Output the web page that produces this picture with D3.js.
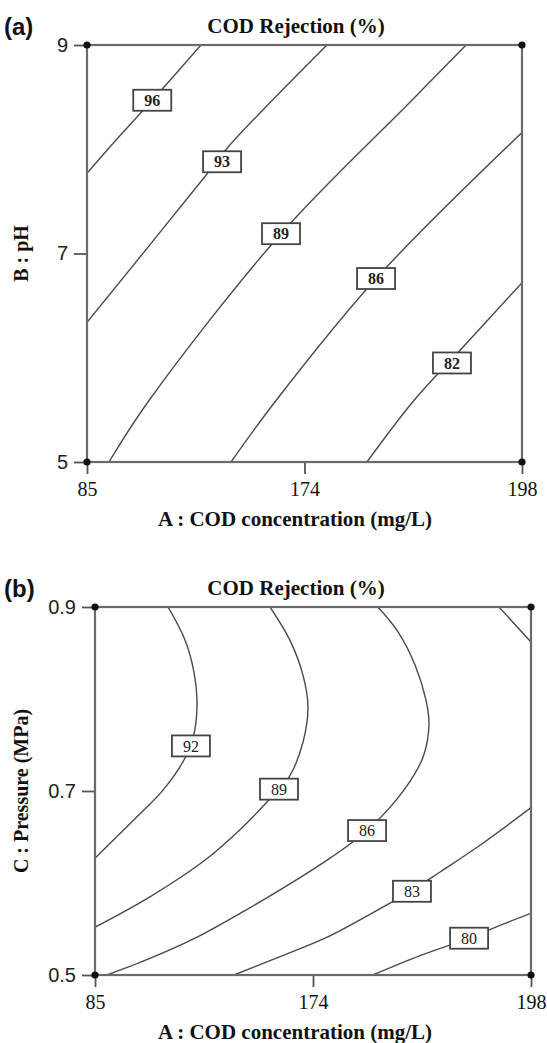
<!DOCTYPE html>
<html>
<head>
<meta charset="utf-8">
<script src="https://cdn.jsdelivr.net/npm/d3@7"></script>
<style>
  html, body { margin: 0; padding: 0; background: #fff; }
  svg { display: block; }
</style>
</head>
<body>
<svg id="chart" width="547" height="1043"></svg>
<script>
// ---------------- DATA ----------------
// Shared x axis: coded levels -1, 0, +1 of factor A
const xCoded = [-1, 0, 1];
const xTickLabels = ["85", "174", "198"];

// Panel (a): pH axis
const aYTicks = [5, 7, 9];
const aYTickLabels = ["5", "7", "9"];
// contour lines of COD rejection (%) : [coded A, pH]
const aLine96 = [[-1, 7.77], [-0.853, 8.12], [-0.70, 8.47], [-0.476, 9.0]];
const aLine93 = [[-1, 6.34], [-0.453, 7.75], [-0.356, 8.01], [0.103, 9.0]];
const aLine89 = [[-0.899, 5.0], [-0.715, 5.59], [-0.108, 7.19], [0.494, 8.47], [0.743, 9.0]];
const aLine86 = [[-0.338, 5.0], [-0.131, 5.59], [0.329, 6.76], [1.0, 8.16]];
const aLine82 = [[0.287, 5.0], [0.503, 5.59], [0.710, 6.06], [1.0, 6.72]];
const aLabelValues = [96, 93, 89, 86, 82];
const aLabelX = [-0.70, -0.379, -0.108, 0.329, 0.678];
const aLabelY = [8.47, 7.88, 7.19, 6.76, 5.95];

// Panel (b): pressure axis
const bYTicks = [0.5, 0.7, 0.9];
const bYTickLabels = ["0.5", "0.7", "0.9"];
// contour lines of COD rejection (%) : [coded A, pressure MPa]
const bLine92 = [[-0.665, 0.9], [-0.587, 0.864], [-0.546, 0.829], [-0.532, 0.793], [-0.550, 0.758],
                 [-0.596, 0.732], [-0.688, 0.701], [-0.803, 0.673], [-1, 0.627]];
const bLine89 = [[-0.197, 0.9], [-0.106, 0.864], [-0.046, 0.826], [-0.023, 0.791], [-0.046, 0.753],
                 [-0.110, 0.715], [-0.211, 0.688], [-0.335, 0.658], [-0.495, 0.625], [-0.748, 0.585], [-1, 0.552]];
const bLine86 = [[0.298, 0.9], [0.390, 0.873], [0.468, 0.837], [0.518, 0.799], [0.532, 0.772], [0.505, 0.737],
                 [0.417, 0.701], [0.248, 0.657], [0.078, 0.627], [-0.106, 0.599], [-0.312, 0.570],
                 [-0.541, 0.540], [-0.748, 0.518], [-0.945, 0.5]];
const bLine83 = [[1.0, 0.682], [0.766, 0.641], [0.583, 0.612], [0.454, 0.592], [0.261, 0.566],
                 [0.055, 0.540], [-0.151, 0.520], [-0.362, 0.5]];
const bLine83Corner = [[0.853, 0.9], [1.0, 0.862]];
const bLine80 = [[1.0, 0.567], [0.858, 0.554], [0.716, 0.540], [0.491, 0.521], [0.275, 0.5]];
const bLabelValues = [92, 89, 86, 83, 80];
const bLabelX = [-0.560, -0.156, 0.248, 0.454, 0.716];
const bLabelY = [0.749, 0.702, 0.657, 0.591, 0.540];

const titleText = "COD Rejection (%)";
const xTitleText = "A : COD concentration (mg/L)";

// ---------------- DRAW ----------------
const svg = d3.select("#chart");
const serif = "'Liberation Serif', 'Times New Roman', serif";
const sans = "'Liberation Sans Narrow', 'Liberation Sans', Arial, sans-serif";

function panel(cfg) {
  const x = d3.scaleLinear().domain([-1, 1]).range([cfg.left, cfg.right]);
  const y = d3.scaleLinear().domain(cfg.yDomain).range([cfg.bottom, cfg.top]);
  const g = svg.append("g");
  const clipId = "clip" + cfg.id;
  svg.append("clipPath").attr("id", clipId)
    .append("rect").attr("x", cfg.left).attr("y", cfg.top)
    .attr("width", cfg.right - cfg.left).attr("height", cfg.bottom - cfg.top);

  // panel letter
  g.append("text").attr("x", 4).attr("y", cfg.top - 10)
    .attr("font-family", "'Liberation Sans', Arial, sans-serif").attr("font-weight", "bold")
    .attr("font-size", 24).attr("fill", "#111").text(cfg.letter);
  // title
  g.append("text").attr("x", 296).attr("y", cfg.top - 12).attr("text-anchor", "middle")
    .attr("font-family", serif).attr("font-weight", "bold").attr("font-size", 21)
    .attr("fill", "#111").text(titleText);

  // contour lines
  const line = d3.line().x(d => x(d[0])).y(d => y(d[1])).curve(d3.curveCatmullRom.alpha(0.5));
  g.append("g").attr("clip-path", `url(#${clipId})`)
    .selectAll("path").data(cfg.lines).join("path")
    .attr("d", line).attr("fill", "none").attr("stroke", "#4a4a4a").attr("stroke-width", 1.4);

  // axes
  const xAxis = d3.axisBottom(x).tickValues(xCoded).tickSize(12).tickSizeOuter(0)
    .tickFormat((d, i) => xTickLabels[i]);
  const gx = g.append("g").attr("transform", `translate(0,${cfg.bottom})`).call(xAxis);
  gx.select(".domain").remove();
  gx.selectAll(".tick line").attr("stroke", "#555").attr("stroke-width", 1.8);
  gx.selectAll(".tick text").attr("font-family", serif).attr("font-size", 20)
    .attr("fill", "#111").attr("dy", "0.95em").attr("y", 15);

  const yAxis = d3.axisLeft(y).tickValues(cfg.yTicks).tickSize(13).tickSizeOuter(0)
    .tickFormat((d, i) => cfg.yTickLabels[i]);
  const gy = g.append("g").attr("transform", `translate(${cfg.left},0)`).call(yAxis);
  gy.select(".domain").remove();
  gy.selectAll(".tick line").attr("stroke", "#555").attr("stroke-width", 1.8);
  gy.selectAll(".tick text").attr("font-family", sans).attr("font-size", 20)
    .attr("fill", "#222").attr("x", -19);

  // border
  g.append("rect").attr("x", cfg.left).attr("y", cfg.top)
    .attr("width", cfg.right - cfg.left).attr("height", cfg.bottom - cfg.top)
    .attr("fill", "none").attr("stroke", "#6a6a6a").attr("stroke-width", 2.2);

  // corner dots
  const corners = [[-1, cfg.yDomain[0]], [-1, cfg.yDomain[1]], [1, cfg.yDomain[0]], [1, cfg.yDomain[1]]];
  g.selectAll("circle.corner").data(corners).join("circle").attr("class", "corner")
    .attr("cx", d => x(d[0])).attr("cy", d => y(d[1])).attr("r", 3.6).attr("fill", "#111");

  // contour labels
  const lab = g.selectAll("g.lab").data(cfg.labelValues).join("g").attr("class", "lab")
    .attr("transform", (d, i) => `translate(${x(cfg.labelX[i])},${y(cfg.labelY[i])})`);
  lab.append("rect").attr("x", -19).attr("y", -10.5).attr("width", 38).attr("height", 21)
    .attr("fill", "#fff").attr("stroke", "#444").attr("stroke-width", 1.8);
  lab.append("text").attr("text-anchor", "middle").attr("dy", "0.35em")
    .attr("font-family", serif).attr("font-size", cfg.labelSize)
    .attr("font-weight", cfg.labelWeight).attr("fill", "#222").text(d => d);

  // axis titles
  g.append("text").attr("x", 295).attr("y", cfg.bottom + 64).attr("text-anchor", "middle")
    .attr("font-family", serif).attr("font-weight", "bold").attr("font-size", 21)
    .attr("fill", "#111").text(xTitleText);
  g.append("text")
    .attr("transform", `translate(28,${(cfg.top + cfg.bottom) / 2}) rotate(-90)`)
    .attr("text-anchor", "middle")
    .attr("font-family", serif).attr("font-weight", "bold").attr("font-size", 20)
    .attr("fill", "#111").text(cfg.yTitle);
}

panel({
  id: "a", letter: "(a)", left: 87, right: 522, top: 45, bottom: 462,
  yDomain: [5, 9], yTicks: aYTicks, yTickLabels: aYTickLabels, yTitle: "B : pH",
  lines: [aLine96, aLine93, aLine89, aLine86, aLine82],
  labelValues: aLabelValues, labelX: aLabelX, labelY: aLabelY,
  labelSize: 16, labelWeight: "bold"
});

panel({
  id: "b", letter: "(b)", left: 95, right: 531, top: 607, bottom: 975,
  yDomain: [0.5, 0.9], yTicks: bYTicks, yTickLabels: bYTickLabels, yTitle: "C : Pressure (MPa)",
  lines: [bLine92, bLine89, bLine86, bLine83, bLine83Corner, bLine80],
  labelValues: bLabelValues, labelX: bLabelX, labelY: bLabelY,
  labelSize: 16, labelWeight: "normal"
});
</script>
</body>
</html>
